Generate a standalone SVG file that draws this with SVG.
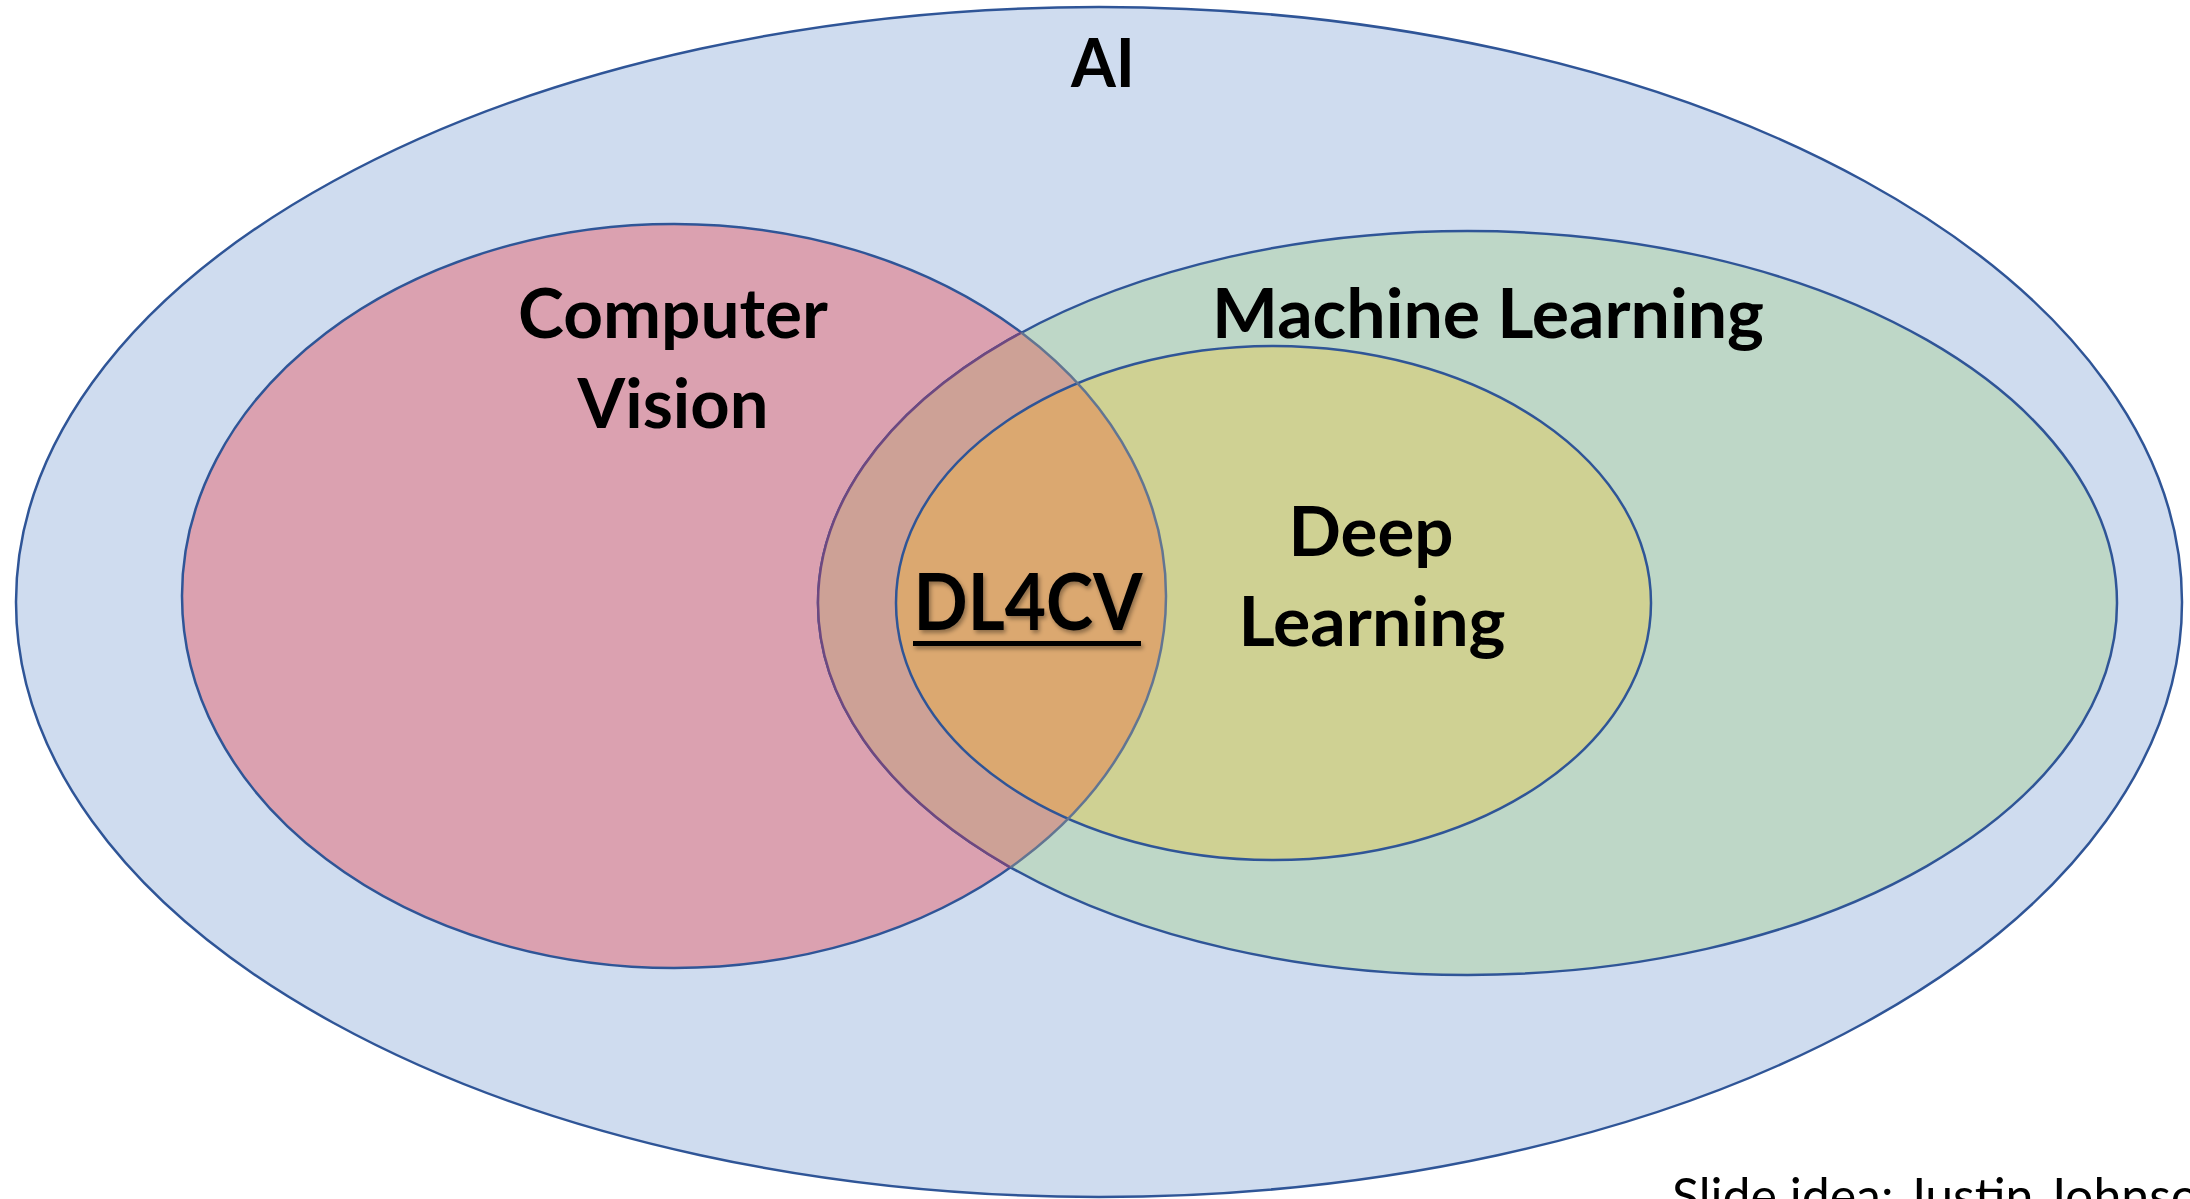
<svg xmlns="http://www.w3.org/2000/svg" width="2190" height="1199" viewBox="0 0 2190 1199">
<style>
.lbl{font-family:Lato,"Open Sans","Liberation Sans",sans-serif;font-weight:700;fill:#000;text-anchor:middle}
.edge{fill:none;stroke:#2F5597;stroke-width:2.5}
.note{font-family:Lato,"Open Sans","Liberation Sans",sans-serif;font-weight:400;fill:#000}
</style>
<defs>
<clipPath id="cvClip"><ellipse cx="674" cy="596" rx="492" ry="372"/></clipPath>
<clipPath id="mlClip"><ellipse cx="1467.5" cy="603" rx="649.5" ry="372"/></clipPath>
<filter id="shadow" x="-10%" y="-20%" width="130%" height="150%">
<feDropShadow dx="2" dy="3" stdDeviation="2" flood-color="#000" flood-opacity="0.35"/>
</filter>
</defs>
<rect width="2190" height="1199" fill="#FFFFFF"/>
<g id="ai">
<ellipse cx="1099" cy="602" rx="1083" ry="595" class="edge" style="fill:#CFDCEF"/>
<text class="lbl" x="1103" y="87" font-size="66" textLength="64" lengthAdjust="spacingAndGlyphs">AI</text>
</g>
<g id="computer-vision">
<ellipse cx="674" cy="596" rx="492" ry="372" class="edge" style="fill:#DBA1B0"/>
</g>
<g id="machine-learning">
<ellipse cx="1467.5" cy="603" rx="649.5" ry="372" class="edge" style="fill:#BED7C7"/>
</g>
<g id="deep-learning">
<ellipse cx="1273.5" cy="603" rx="377.5" ry="257" class="edge" style="fill:#CFD193"/>
</g>
<g id="overlaps" clip-path="url(#cvClip)">
<ellipse cx="1467.5" cy="603" rx="649.5" ry="372" fill="#CDA196" stroke="#6E4880" stroke-width="2.5"/>
<ellipse cx="1273.5" cy="603" rx="377.5" ry="257" fill="#DBA870" stroke="#2F5597" stroke-width="2.5"/>
</g>
<g id="cv-edge-in-ml" clip-path="url(#mlClip)">
<ellipse cx="674" cy="596" rx="492" ry="372" fill="none" stroke="#627592" stroke-width="2.5"/>
</g>
<g id="labels">
<text class="lbl" x="673" y="338" font-size="68" textLength="310" lengthAdjust="spacingAndGlyphs">Computer</text>
<text class="lbl" x="673" y="428" font-size="68" textLength="191" lengthAdjust="spacingAndGlyphs">Vision</text>
<text class="lbl" x="1488" y="338" font-size="68" textLength="552" lengthAdjust="spacingAndGlyphs">Machine Learning</text>
<text class="lbl" x="1371" y="556" font-size="68" textLength="165" lengthAdjust="spacingAndGlyphs">Deep</text>
<text class="lbl" x="1372" y="646" font-size="68" textLength="267" lengthAdjust="spacingAndGlyphs">Learning</text>
</g>
<g id="dl4cv" filter="url(#shadow)">
<text class="lbl" x="1028" y="630" font-size="78" textLength="229" lengthAdjust="spacingAndGlyphs">DL4CV</text>
<rect x="913" y="641" width="228" height="5" fill="#000"/>
</g>
<g id="credit">
<text class="note" x="1672" y="1214" font-size="50">Slide idea: Justin Johnson</text>
</g>
</svg>
